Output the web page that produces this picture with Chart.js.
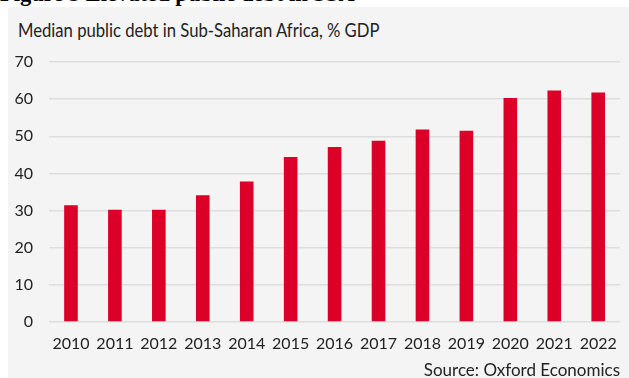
<!DOCTYPE html>
<html>
<head>
<meta charset="utf-8">
<script src="https://cdn.jsdelivr.net/npm/chart.js@4"></script>
<style>
  html, body { margin: 0; padding: 0; background: #fff; }
  #page { position: relative; width: 629px; height: 378px; overflow: hidden; }
  #fig-caption {
    position: absolute; left: 0; top: -19px;
    font: bold 22.5px "Liberation Serif", serif; color: #000; white-space: nowrap;
  }
  #panel { position: absolute; left: 8px; top: 7px; width: 621px; height: 371px; background: #f4f4f4; }
  #title {
    position: absolute; left: 18px; top: 19px;
    font: 18.5px Lato, "Open Sans", sans-serif; color: #222; white-space: nowrap;
    transform: scaleX(0.9); transform-origin: left top;
  }
  #source {
    position: absolute; right: 9px; top: 359px;
    font: 17px Lato, "Open Sans", sans-serif; color: #222; white-space: nowrap;
  }
  #chart { position: absolute; left: 0; top: 0; }
</style>
</head>
<body>
<div id="page">
  <div id="fig-caption">Figure 3 Elevated public debt in SSA</div>
  <div id="panel"></div>
  <div id="title">Median public debt in Sub-Saharan Africa, % GDP</div>
  <canvas id="chart" width="629" height="378"></canvas>
  <div id="source">Source: Oxford Economics</div>
</div>
<script>
// median public debt, % of GDP
const years = ['2010', '2011', '2012', '2013', '2014', '2015', '2016', '2017', '2018', '2019', '2020', '2021', '2022'];
const debtValues = [31.4, 30.2, 30.2, 34.1, 37.8, 44.4, 47.1, 48.8, 51.8, 51.5, 60.3, 62.3, 61.8];
const yTicks = [0, 10, 20, 30, 40, 50, 60, 70];

const labelFont = { family: 'Lato, "Open Sans", sans-serif', size: 16 };

new Chart(document.getElementById('chart'), {
  type: 'bar',
  data: {
    labels: years,
    datasets: [{
      data: debtValues,
      backgroundColor: '#dc0028',
      borderWidth: 0,
      barPercentage: 0.31,
      categoryPercentage: 1
    }]
  },
  options: {
    responsive: false,
    animation: false,
    layout: { padding: { left: 0, right: 6, top: 62, bottom: 0 } },
    plugins: { legend: { display: false }, tooltip: { enabled: false } },
    scales: {
      x: {
        grid: { display: false, drawTicks: false },
        border: { display: false },
        ticks: { color: '#222', font: labelFont, padding: 12, maxRotation: 0 },
        afterFit: (s) => { s.height = 56; }
      },
      y: {
        min: 0,
        max: 70,
        afterBuildTicks: (s) => { s.ticks = yTicks.map(v => ({ value: v })); },
        grid: { color: '#dddddd', lineWidth: 1.5, drawTicks: false },
        border: { display: false },
        ticks: { color: '#222', font: labelFont, padding: 16 },
        afterFit: (s) => { s.width = 49; }
      }
    }
  }
});
</script>
</body>
</html>
